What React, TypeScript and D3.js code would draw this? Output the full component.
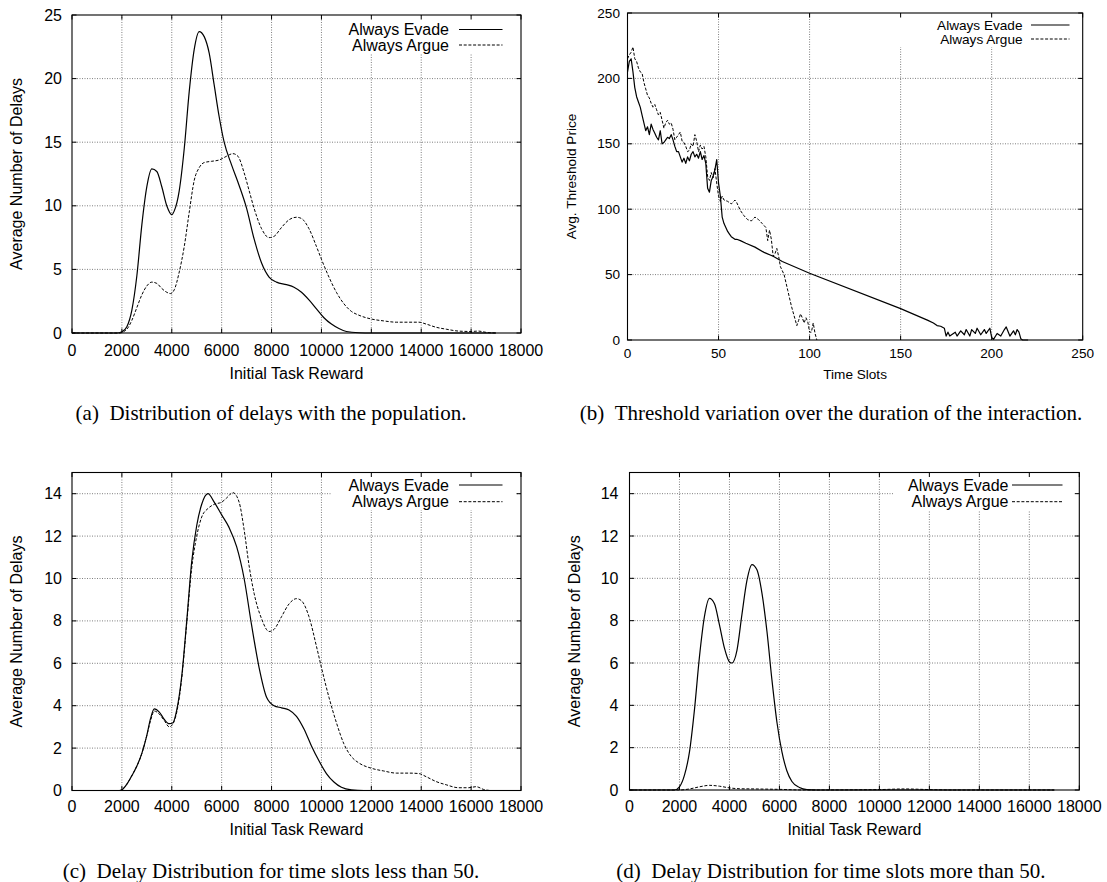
import React from "react";
import * as d3 from "d3";

// ---------- tick values ----------
const rewardTicks = [0, 2000, 4000, 6000, 8000, 10000, 12000, 14000, 16000, 18000];
const delayTicksA = [0, 5, 10, 15, 20, 25];
const delayTicksCD = [0, 2, 4, 6, 8, 10, 12, 14];
const slotTicks = [0, 50, 100, 150, 200, 250];
const priceTicks = [0, 50, 100, 150, 200, 250];

const seriesNames = ["Always Evade", "Always Argue"];

// ---------- (a) Distribution of delays with the population ----------
const aEvade: [number, number][] = [
  [0, 0], [1800, 0], [2000, 0.1], [2200, 0.5], [2400, 1.8], [2600, 4.5], [2800, 8.5], [3000, 11.5],
  [3200, 12.9], [3400, 12.7], [3600, 11.5], [3800, 10.0], [4000, 9.3], [4100, 9.6], [4300, 11.2],
  [4500, 14.5], [4700, 19], [4900, 22.3], [5100, 23.7], [5300, 23.3], [5500, 22], [5700, 19.5],
  [5900, 17], [6100, 15], [6400, 13.2], [6700, 11.6], [7000, 9.8], [7300, 7.4], [7600, 5.5],
  [7900, 4.4], [8200, 4.0], [8600, 3.8], [8900, 3.6], [9200, 3.2], [9500, 2.6], [9800, 1.9],
  [10100, 1.2], [10400, 0.7], [10700, 0.35], [11000, 0.12], [11500, 0.02], [12000, 0], [17000, 0],
];
const aArgue: [number, number][] = [
  [0, 0], [1900, 0], [2200, 0.3], [2400, 1.0], [2600, 2.0], [2800, 3.0], [3000, 3.7], [3200, 4.0],
  [3400, 3.9], [3600, 3.5], [3800, 3.2], [3950, 3.1], [4100, 3.4], [4300, 4.8], [4500, 6.8],
  [4700, 9.5], [4900, 12.0], [5100, 13.0], [5300, 13.4], [5600, 13.5], [5900, 13.6], [6200, 13.9],
  [6450, 14.1], [6650, 13.9], [6900, 12.6], [7100, 11.2], [7300, 9.8], [7600, 8.2], [7900, 7.5],
  [8100, 7.6], [8400, 8.3], [8700, 8.9], [9000, 9.1], [9200, 9.0], [9500, 8.2], [9800, 6.8],
  [10000, 5.8], [10300, 4.4], [10600, 3.2], [10900, 2.3], [11200, 1.7], [11500, 1.4], [12000, 1.1],
  [12500, 0.95], [13000, 0.85], [13500, 0.85], [13900, 0.85], [14200, 0.7], [14600, 0.45],
  [15000, 0.3], [15500, 0.15], [16000, 0.12], [16300, 0.15], [16600, 0.05], [17000, 0],
];

// ---------- (b) Threshold variation ----------
const bEvade: [number, number][] = [
  [0, 205], [1, 213], [2, 215], [3, 205], [4, 193], [5, 186], [6, 182], [7, 178], [8, 172], [9, 166],
  [10, 160], [11, 163], [12, 157], [13, 165], [14, 161], [15, 158], [16, 155], [17, 153], [18, 160],
  [19, 150], [20, 151], [21, 153], [22, 155], [23, 154], [24, 157], [25, 153], [26, 148], [27, 144],
  [28, 144], [29, 140], [30, 136], [31, 139], [32, 135], [33, 140], [34, 137], [35, 142], [36, 144],
  [37, 140], [38, 142], [39, 139], [40, 144], [41, 138], [42, 141], [43, 135], [44, 116], [45, 113],
  [46, 122], [47, 125], [48, 130], [49, 138], [50, 120], [51, 110], [52, 94], [53, 89], [54, 86],
  [55, 83], [56, 81], [57, 79], [58, 78], [59, 77], [60, 77], [62, 76], [65, 74], [70, 71], [75, 67],
  [80, 64], [85, 60], [100, 51], [150, 24], [165, 15], [168, 13], [170, 11], [172, 10.5], [174, 9],
  [175, 3], [176, 6], [177, 3], [178, 4], [180, 6], [181, 3], [183, 7], [185, 4], [186, 8], [188, 3],
  [189, 8], [191, 5], [192, 9], [194, 4], [196, 8], [197, 5], [199, 9], [200, 2], [201, 0.5], [203, 5],
  [205, 3], [207, 8], [208, 10], [210, 3], [212, 7], [213, 4], [214, 8], [215, 6], [216, 1], [217, 0],
  [220, 0],
];
const bArgue: [number, number][] = [
  [0, 215], [1, 218], [2, 220], [3, 224], [4, 215], [5, 213], [6, 208], [7, 205], [8, 204], [9, 197],
  [10, 192], [11, 187], [12, 185], [13, 181], [14, 178], [15, 180], [16, 176], [17, 172], [18, 174],
  [19, 168], [20, 162], [21, 166], [22, 168], [23, 165], [24, 166], [25, 161], [26, 153], [27, 155],
  [28, 157], [29, 159], [30, 152], [31, 151], [32, 148], [33, 144], [34, 145], [35, 150], [36, 148],
  [37, 157], [38, 152], [39, 144], [40, 149], [41, 146], [42, 148], [43, 140], [44, 125], [45, 122],
  [46, 128], [47, 124], [48, 131], [49, 120], [50, 110], [51, 106], [52, 110], [53, 107], [55, 106],
  [57, 104], [59, 107], [60, 105], [62, 99], [64, 95], [66, 92], [68, 91], [70, 94], [72, 92], [74, 89],
  [76, 86], [77, 76], [78, 84], [79, 77], [80, 64], [81, 66], [82, 70], [83, 64], [84, 56], [86, 50],
  [88, 38], [90, 26], [92, 16], [93, 11], [94, 15], [95, 20], [96, 17], [97, 13], [98, 17], [99, 14],
  [100, 6], [101, 6], [102, 13], [103, 5], [104, 0],
];

// ---------- (c) Delay distribution, time slots < 50 ----------
const cEvade: [number, number][] = [
  [0, 0], [1900, 0], [2000, 0.03], [2200, 0.3], [2400, 0.7], [2600, 1.15], [2800, 1.75], [3000, 2.6],
  [3150, 3.4], [3300, 3.85], [3500, 3.7], [3700, 3.35], [3900, 3.15], [4050, 3.2], [4200, 3.8],
  [4400, 5.4], [4600, 8.0], [4800, 10.8], [5000, 12.5], [5200, 13.5], [5450, 14.0], [5700, 13.6],
  [6000, 13.0], [6300, 12.4], [6600, 11.5], [6900, 10.0], [7200, 7.8], [7500, 5.8], [7800, 4.4],
  [8100, 4.0], [8400, 3.9], [8700, 3.8], [9000, 3.5], [9300, 2.9], [9600, 2.1], [9900, 1.4],
  [10200, 0.8], [10500, 0.4], [10800, 0.15], [11200, 0.03], [11700, 0], [17000, 0],
];
const cArgue: [number, number][] = [
  [0, 0], [1900, 0], [2000, 0.03], [2200, 0.3], [2400, 0.7], [2600, 1.15], [2800, 1.75], [3000, 2.6],
  [3150, 3.3], [3300, 3.75], [3500, 3.6], [3700, 3.3], [3900, 3.0], [4050, 3.15], [4200, 3.7],
  [4400, 5.3], [4600, 7.9], [4800, 10.5], [5000, 12.0], [5200, 12.9], [5450, 13.3], [5700, 13.5],
  [6000, 13.6], [6200, 13.8], [6450, 14.05], [6700, 13.6], [6900, 12.3], [7100, 10.6], [7300, 9.3],
  [7600, 8.1], [7900, 7.5], [8100, 7.6], [8400, 8.2], [8700, 8.8], [9000, 9.05], [9200, 8.95],
  [9500, 8.2], [9800, 6.8], [10000, 5.8], [10300, 4.4], [10600, 3.2], [10900, 2.2], [11200, 1.6],
  [11500, 1.3], [12000, 1.05], [12500, 0.92], [13000, 0.82], [13500, 0.82], [13900, 0.8],
  [14200, 0.65], [14600, 0.42], [15000, 0.27], [15500, 0.13], [15900, 0.13], [16200, 0.18],
  [16500, 0.05], [16800, 0], [17000, 0],
];

// ---------- (d) Delay distribution, time slots > 50 ----------
const dEvade: [number, number][] = [
  [0, 0], [1800, 0], [2000, 0.15], [2200, 0.7], [2400, 1.8], [2600, 3.8], [2800, 6.3], [3000, 8.2],
  [3200, 9.05], [3400, 8.8], [3600, 7.8], [3800, 6.7], [4000, 6.05], [4100, 6.0], [4300, 6.6],
  [4500, 8.3], [4700, 9.9], [4900, 10.65], [5100, 10.4], [5300, 9.3], [5500, 7.5], [5700, 5.2],
  [5900, 3.2], [6100, 1.8], [6300, 0.9], [6500, 0.4], [6800, 0.12], [7100, 0.02], [7500, 0], [17000, 0],
];
const dArgue: [number, number][] = [
  [0, 0], [2000, 0], [2400, 0.05], [2800, 0.15], [3200, 0.22], [3600, 0.18], [4000, 0.1], [4400, 0.06],
  [5000, 0.05], [6000, 0.03], [7000, 0], [10000, 0.02], [11000, 0.05], [12000, 0.02], [13000, 0],
  [17000, 0],
];

const captions = [
  "(a)\u2002Distribution of delays with the population.",
  "(b)\u2002Threshold variation over the duration of the interaction.",
  "(c)\u2002Delay Distribution for time slots less than 50.",
  "(d)\u2002Delay Distribution for time slots more than 50.",
];

const SANS = "'Liberation Sans', Arial, Helvetica, sans-serif";
const SERIF = "'Liberation Serif', 'Times New Roman', serif";

type PanelCfg = {
  left: number; right: number; top: number; bottom: number;
  xDomain: [number, number]; yDomain: [number, number];
  xTicks: number[]; yTicks: number[];
  series: [number, number][][];
  smooth: boolean;
  fs: number;
  xLabel: string; yLabel: string;
  xTickDy: number; xLabelDy: number; yTickDx: number; yLabelX: number;
  legTextRight: number; legRow1: number; legRow2: number; legLineX1: number; legLineX2: number;
  box: [number, number, number, number];
};

function Panel({ p }: { p: PanelCfg }) {
  const x = d3.scaleLinear().domain(p.xDomain).range([p.left, p.right]);
  const y = d3.scaleLinear().domain(p.yDomain).range([p.bottom, p.top]);
  const line = d3
    .line<[number, number]>()
    .x((d) => x(d[0]))
    .y((d) => y(d[1]))
    .curve(p.smooth ? d3.curveMonotoneX : d3.curveLinear);
  const tl = 4.5;
  const gridStyle = { stroke: "#707070", strokeWidth: 0.9, strokeDasharray: "1,1.5" };
  const dashes = [undefined, "3,1.7"];
  return (
    <g>
      {p.xTicks
        .filter((t) => t > p.xDomain[0] && t < p.xDomain[1])
        .map((t) => (
          <line key={"gx" + t} x1={x(t)} x2={x(t)} y1={p.bottom} y2={p.top} {...gridStyle} />
        ))}
      {p.yTicks
        .filter((t) => t > p.yDomain[0] && t < p.yDomain[1])
        .map((t) => (
          <line key={"gy" + t} x1={p.left} x2={p.right} y1={y(t)} y2={y(t)} {...gridStyle} />
        ))}
      <rect x={p.box[0]} y={p.box[1]} width={p.box[2] - p.box[0]} height={p.box[3] - p.box[1]} fill="#fff" />
      {p.series.map((s, i) => (
        <path
          key={"s" + i}
          d={line(s) || ""}
          fill="none"
          stroke="#000"
          strokeWidth={i === 0 ? 1.2 : 1}
          strokeDasharray={dashes[i]}
          strokeLinejoin="round"
        />
      ))}
      <rect x={p.left} y={p.top} width={p.right - p.left} height={p.bottom - p.top} fill="none" stroke="#000" strokeWidth={1.1} />
      {p.xTicks.map((t) => (
        <g key={"tx" + t}>
          <line x1={x(t)} x2={x(t)} y1={p.bottom} y2={p.bottom - tl} stroke="#000" />
          <line x1={x(t)} x2={x(t)} y1={p.top} y2={p.top + tl} stroke="#000" />
          <text x={x(t)} y={p.bottom + p.xTickDy} textAnchor="middle" dominantBaseline="central" fontFamily={SANS} fontSize={p.fs} fill="#000">
            {t}
          </text>
        </g>
      ))}
      {p.yTicks.map((t) => (
        <g key={"ty" + t}>
          <line x1={p.left} x2={p.left + tl} y1={y(t)} y2={y(t)} stroke="#000" />
          <line x1={p.right} x2={p.right - tl} y1={y(t)} y2={y(t)} stroke="#000" />
          <text x={p.left - p.yTickDx} y={y(t)} textAnchor="end" dominantBaseline="central" fontFamily={SANS} fontSize={p.fs} fill="#000">
            {t}
          </text>
        </g>
      ))}
      <text x={(p.left + p.right) / 2} y={p.bottom + p.xLabelDy} textAnchor="middle" dominantBaseline="central" fontFamily={SANS} fontSize={p.fs} fill="#000">
        {p.xLabel}
      </text>
      <text
        transform={`translate(${p.yLabelX},${(p.top + p.bottom) / 2}) rotate(-90)`}
        textAnchor="middle"
        dominantBaseline="central"
        fontFamily={SANS}
        fontSize={p.fs}
        fill="#000"
      >
        {p.yLabel}
      </text>
      {seriesNames.map((n, i) => {
        const yy = i === 0 ? p.legRow1 : p.legRow2;
        return (
          <g key={"l" + i}>
            <text x={p.legTextRight} y={yy} textAnchor="end" dominantBaseline="central" fontFamily={SANS} fontSize={p.fs} fill="#000">
              {n}
            </text>
            <line x1={p.legLineX1} x2={p.legLineX2} y1={yy} y2={yy} stroke="#000" strokeWidth={i === 0 ? 1.2 : 1} strokeDasharray={dashes[i]} />
          </g>
        );
      })}
    </g>
  );
}

const panels: PanelCfg[] = [
  {
    left: 72, right: 521, top: 15, bottom: 333,
    xDomain: [0, 18000], yDomain: [0, 25], xTicks: rewardTicks, yTicks: delayTicksA,
    series: [aEvade, aArgue], smooth: true, fs: 16,
    xLabel: "Initial Task Reward", yLabel: "Average Number of Delays",
    xTickDy: 17, xLabelDy: 40, yTickDx: 10, yLabelX: 16,
    legTextRight: 449, legRow1: 29.5, legRow2: 45, legLineX1: 459, legLineX2: 502.5,
    box: [331, 16, 517, 53],
  },
  {
    left: 627.5, right: 1082.7, top: 13, bottom: 340,
    xDomain: [0, 250], yDomain: [0, 250], xTicks: slotTicks, yTicks: priceTicks,
    series: [bEvade, bArgue], smooth: false, fs: 13.6,
    xLabel: "Time Slots", yLabel: "Avg. Threshold Price",
    xTickDy: 13.5, xLabelDy: 34.5, yTickDx: 7.5, yLabelX: 571.7,
    legTextRight: 1022.5, legRow1: 25, legRow2: 39, legLineX1: 1031, legLineX2: 1069.5,
    box: [880, 14, 1081, 47],
  },
  {
    left: 72, right: 521, top: 472.5, bottom: 790.5,
    xDomain: [0, 18000], yDomain: [0, 15], xTicks: rewardTicks, yTicks: delayTicksCD,
    series: [cEvade, cArgue], smooth: true, fs: 16,
    xLabel: "Initial Task Reward", yLabel: "Average Number of Delays",
    xTickDy: 16, xLabelDy: 39, yTickDx: 10, yLabelX: 16,
    legTextRight: 449, legRow1: 485, legRow2: 501.7, legLineX1: 459, legLineX2: 502.5,
    box: [331, 473.5, 517, 510],
  },
  {
    left: 629.5, right: 1079.3, top: 472.5, bottom: 790,
    xDomain: [0, 18000], yDomain: [0, 15], xTicks: rewardTicks, yTicks: delayTicksCD,
    series: [dEvade, dArgue], smooth: true, fs: 16,
    xLabel: "Initial Task Reward", yLabel: "Average Number of Delays",
    xTickDy: 16, xLabelDy: 39, yTickDx: 11, yLabelX: 574,
    legTextRight: 1008.5, legRow1: 485, legRow2: 501.7, legLineX1: 1012, legLineX2: 1062.5,
    box: [893, 473.5, 1077.5, 510],
  },
];

const captionPos: [number, number][] = [
  [271, 413],
  [831, 413],
  [271, 871],
  [831, 871],
];

export default function App() {
  return (
    <svg
      width={1107}
      height={882}
      viewBox="0 0 1107 882"
      style={{ position: "absolute", left: 0, top: 0, background: "#fff" }}
    >
      <rect x={0} y={0} width={1107} height={882} fill="#fff" />
      {panels.map((p, i) => (
        <Panel key={i} p={p} />
      ))}
      {captions.map((c, i) => (
        <text
          key={"c" + i}
          x={captionPos[i][0]}
          y={captionPos[i][1]}
          textAnchor="middle"
          dominantBaseline="central"
          fontFamily={SERIF}
          fontSize={21}
          fill="#000"
        >
          {c}
        </text>
      ))}
    </svg>
  );
}
